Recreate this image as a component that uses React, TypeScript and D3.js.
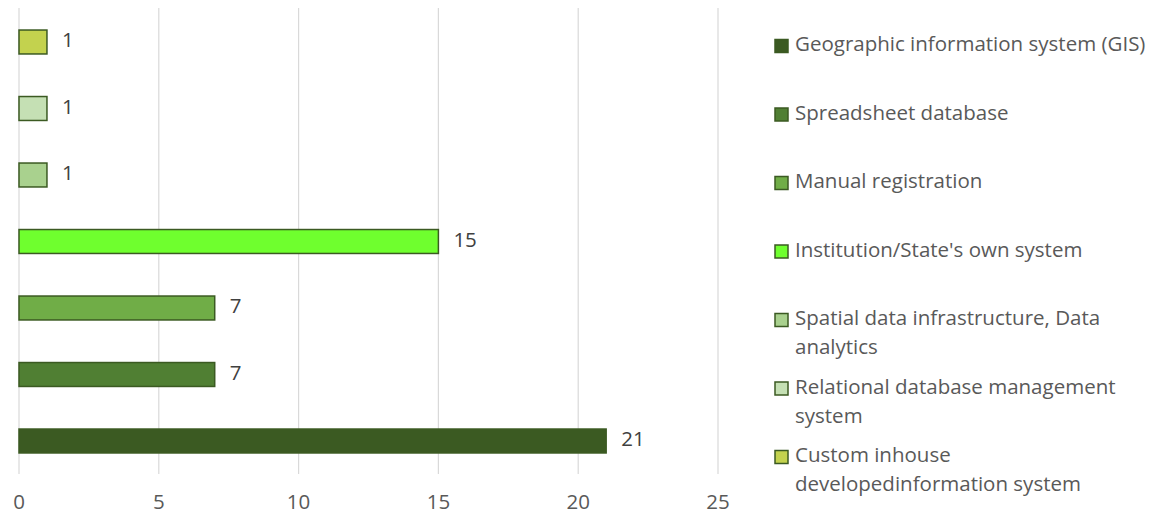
import React from "react";
import * as d3 from "d3";

const categories = [
  "Geographic information system (GIS)",
  "Spreadsheet database",
  "Manual registration",
  "Institution/State's own system",
  "Spatial data infrastructure, Data analytics",
  "Relational database management system",
  "Custom inhouse developedinformation system",
];
const values = [21, 7, 7, 15, 1, 1, 1];
const colors = ["#3B5A22", "#507F33", "#70AD47", "#6FFF2E", "#A9D18E", "#C5E0B4", "#C3D24E"];
const xTicks = [0, 5, 10, 15, 20, 25];

const W = 1165;
const H = 515;
const FONT = "'Open Sans', sans-serif";
const FS = 20.5;

function measure(text: string) {
  const c = document.createElement("canvas");
  const ctx = c.getContext("2d")!;
  ctx.font = `${FS}px 'Open Sans'`;
  return ctx.measureText(text).width;
}

function wrap(text: string, maxW: number) {
  const words = text.split(" ");
  const lines: string[] = [];
  let cur = "";
  for (const w of words) {
    const t = cur ? cur + " " + w : w;
    if (cur && measure(t) > maxW) {
      lines.push(cur);
      cur = w;
    } else cur = t;
  }
  if (cur) lines.push(cur);
  return lines;
}

export default function App() {
  const x = d3.scaleLinear().domain([0, 25]).range([19, 718]);
  const y = d3
    .scaleBand<string>()
    .domain([...categories].reverse())
    .range([8.75, 474.25])
    .paddingInner(0.64)
    .paddingOuter(0.32);

  const maxW = measure(categories[0]) + 4;
  const legendY = d3.scaleLinear().domain([0, 1]).range([46, 114.5]);

  return (
    <svg width={W} height={H} style={{ position: "absolute", left: 0, top: 0, fontFamily: FONT }}>
      <rect width={W} height={H} fill="#fff" />
      {xTicks.map((t) => (
        <line key={t} x1={x(t)} x2={x(t)} y1={8} y2={474} stroke="#D9D9D9" strokeWidth={1.2} />
      ))}
      {xTicks.map((t) => (
        <text key={"l" + t} x={x(t)} y={504} textAnchor="middle" dominantBaseline="middle" fontSize={FS} fill="#595959">
          {t}
        </text>
      ))}
      {categories.map((c, i) => (
        <g key={c}>
          <rect
            x={x(0)}
            y={y(c)!}
            width={x(values[i]) - x(0)}
            height={y.bandwidth()}
            fill={colors[i]}
            stroke="#3B5A22"
            strokeWidth={1.5}
          />
          <text
            x={x(values[i]) + 15}
            y={y(c)! + y.bandwidth() / 2}
            dominantBaseline="middle"
            fontSize={FS}
            fill="#404040"
          >
            {values[i]}
          </text>
        </g>
      ))}
      {categories.map((c, i) => {
        const lines = wrap(c, maxW);
        const ly = legendY(i);
        return (
          <g key={"lg" + c}>
            <rect x={775} y={ly - 6.5} width={13} height={13} fill={colors[i]} stroke="#3B5A22" strokeWidth={1.5} />
            {lines.map((ln, j) => (
              <text key={j} x={795} y={ly + j * 29} dominantBaseline="middle" fontSize={FS} fill="#595959">
                {ln}
              </text>
            ))}
          </g>
        );
      })}
    </svg>
  );
}
